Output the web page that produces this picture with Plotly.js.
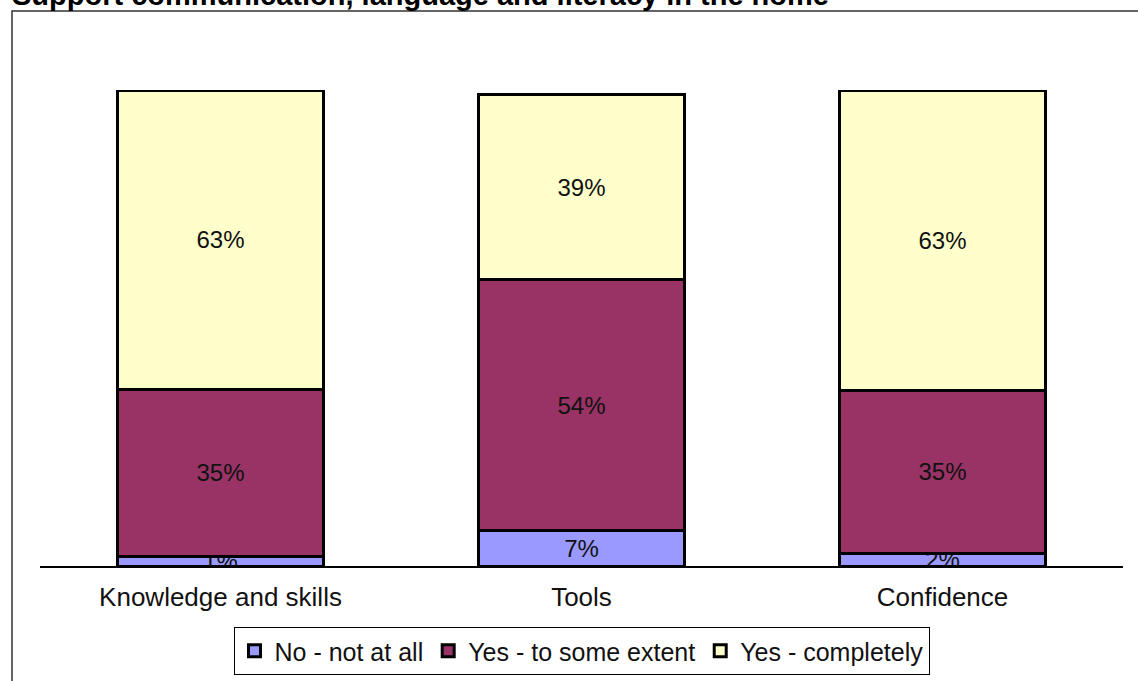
<!DOCTYPE html>
<html>
<head>
<meta charset="utf-8">
<script src="https://cdn.plot.ly/plotly-3.0.1.min.js"></script>
<style>html,body{margin:0;padding:0;background:#fff;}#chart{width:1138px;height:681px;}</style>
</head>
<body>
<div id="chart"></div>
<script>
const categories = ["Knowledge and skills", "Tools", "Confidence"];
const seriesNames = ["No - not at all", "Yes - to some extent", "Yes - completely"];
// bar heights (percent)
const noNotAtAll = [2.1, 7.4, 2.7];
const yesSomeExtent = [34.9, 52.7, 34.2];
const yesCompletely = [63.0, 38.9, 63.0];
// data labels as printed on the chart
const noLabels = ["1%", "7%", "2%"];
const someLabels = ["35%", "54%", "35%"];
const completeLabels = ["63%", "39%", "63%"];
const colors = ["#9999FF", "#993366", "#FFFFCC"];
const chartTitle = "Support communication, language and literacy in the home";

const seriesValues = [noNotAtAll, yesSomeExtent, yesCompletely];
const seriesLabels = [noLabels, someLabels, completeLabels];
const FONT = "Liberation Sans, Arial, sans-serif";
const traces = seriesValues.map((vals, i) => ({
  type: "bar",
  name: seriesNames[i],
  x: categories,
  y: vals,
  text: seriesLabels[i],
  textposition: "inside",
  insidetextanchor: "middle",
  constraintext: "none",
  textangle: 0,
  textfont: {family: FONT, size: 24, color: "#111"},
  marker: {color: colors[i], line: {color: "#000", width: 3}},
  hoverinfo: "skip"
}));

const L = 40, R = 15, T = 90, B = 115, W = 1138, H = 681;
const pw = W - L - R, ph = H - T - B;
const px = p => (p - L) / pw;
const py = p => (H - B - p) / ph;

const layout = {
  width: W, height: H,
  margin: {l: L, r: R, t: T, b: B, pad: 0, autoexpand: false},
  paper_bgcolor: "#fff", plot_bgcolor: "#fff",
  barmode: "stack",
  bargap: 0.427,
  showlegend: true,
  font: {family: FONT, color: "#111"},
  xaxis: {
    showline: true, linecolor: "#000", linewidth: 2,
    ticks: "", showgrid: false, zeroline: false,
    tickfont: {size: 26, color: "#111"},
    ticklabelstandoff: 7,
    automargin: false,
    fixedrange: true
  },
  yaxis: {
    range: [0, 100], visible: false, showgrid: false, zeroline: false, fixedrange: true
  },
  legend: {
    orientation: "h", x: 0.5, xanchor: "center",
    yref: "container", y: 1 - 627 / H, yanchor: "top",
    bordercolor: "#000", borderwidth: 1, bgcolor: "#fff",
    font: {size: 25, color: "#111"},
    traceorder: "normal"
  },
  annotations: [{
    text: "<b>" + chartTitle + "</b>",
    xref: "paper", yref: "paper",
    x: px(10), xanchor: "left",
    y: py(-5), yanchor: "middle",
    showarrow: false,
    font: {family: FONT, size: 29, color: "#000"}
  }],
  shapes: [{
    type: "rect", xref: "paper", yref: "paper",
    x0: px(12), x1: px(1145), y0: py(700), y1: py(11),
    line: {color: "#333", width: 1.5}, fillcolor: "rgba(0,0,0,0)", layer: "below"
  }]
};

Plotly.newPlot("chart", traces, layout, {displayModeBar: false, staticPlot: true});
</script>
</body>
</html>
